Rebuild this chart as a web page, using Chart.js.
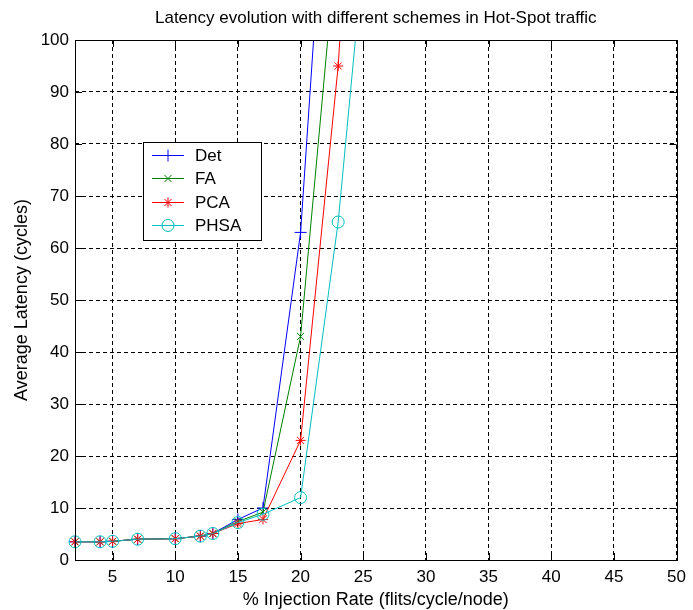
<!DOCTYPE html>
<html>
<head>
<meta charset="utf-8">
<title>Latency evolution</title>
<style>
  html, body { margin: 0; padding: 0; background: #ffffff; }
  #wrap { width: 693px; height: 610px; }
  canvas { display: block; }
</style>
<script src="https://cdn.jsdelivr.net/npm/chart.js@4/dist/chart.umd.min.js"></script>
</head>
<body>
<div id="wrap"><canvas id="chart" width="693" height="610"></canvas></div>
<script>
// Injection rate (% flits/cycle/node) at which each scheme was measured
const injectionRates = [2, 4, 5, 7, 10, 12, 13, 15, 17, 20, 23, 25];

// Average latency (cycles) per scheme; null = not measured
const detLatency  = [3.5, 3.5, 3.6, 4.0, 4.1, 4.6, 5.1, 7.8, 10.0, 63, 170, null];
const faLatency   = [3.5, 3.5, 3.6, 4.0, 4.1, 4.6, 5.1, 7.4, 9.2, 43, 122, null];
const pcaLatency  = [3.5, 3.5, 3.6, 4.0, 4.1, 4.6, 5.1, 7.0, 7.8, 23, 95, 171];
const phsaLatency = [3.5, 3.5, 3.6, 4.0, 4.1, 4.6, 5.1, 7.2, 8.8, 12, 65, 116];

const schemeNames = ['Det', 'FA', 'PCA', 'PHSA'];

// Axis tick values
const xTickValues = [5, 10, 15, 20, 25, 30, 35, 40, 45, 50];
const yTickValues = [0, 10, 20, 30, 40, 50, 60, 70, 80, 90, 100];

const FONT = '"Liberation Sans", Arial, Helvetica, sans-serif';

function toPoints(values) {
  const pts = [];
  values.forEach((v, i) => { if (v !== null) pts.push({ x: injectionRates[i], y: v }); });
  return pts;
}

function series(label, values, color, style, radius, order) {
  return {
    label: label,
    data: toPoints(values),
    borderColor: color,
    backgroundColor: color,
    borderWidth: 1,
    pointStyle: style,
    pointRadius: radius,
    pointHoverRadius: radius,
    pointBorderColor: color,
    pointBackgroundColor: 'rgba(0,0,0,0)',
    pointBorderWidth: 1,
    tension: 0,
    order: order,
    clip: { left: 10, top: 0, right: 0, bottom: 10 }
  };
}

const datasets = [
  series(schemeNames[0], detLatency,  '#0000ff', 'cross',    6, 3),
  series(schemeNames[1], faLatency,   '#008000', 'crossRot', 5, 2),
  series(schemeNames[2], pcaLatency,  '#ff0000', 'star',     5, 1),
  series(schemeNames[3], phsaLatency, '#00bfbf', 'circle',   6, 0)
];

// Titles, axes frame with inward ticks, and the legend box
const decorations = {
  id: 'decorations',
  afterDraw(chart) {
    const ctx = chart.ctx;
    const a = chart.chartArea;
    const xs = chart.scales.x, ys = chart.scales.y;
    ctx.save();

    // frame
    ctx.strokeStyle = '#000';
    ctx.lineWidth = 1;
    ctx.setLineDash([]);
    ctx.strokeRect(Math.round(a.left) + 0.5, Math.round(a.top) + 0.5,
                   Math.round(a.right - a.left), Math.round(a.bottom - a.top));

    // inward tick marks on all four sides
    const tl = 7;
    ctx.beginPath();
    xTickValues.forEach(v => {
      const px = Math.round(xs.getPixelForValue(v)) + 0.5;
      ctx.moveTo(px, a.bottom); ctx.lineTo(px, a.bottom - tl);
      ctx.moveTo(px, a.top); ctx.lineTo(px, a.top + tl);
    });
    yTickValues.forEach(v => {
      const py = Math.round(ys.getPixelForValue(v)) + 0.5;
      ctx.moveTo(a.left, py); ctx.lineTo(a.left + tl, py);
      ctx.moveTo(a.right, py); ctx.lineTo(a.right - tl, py);
    });
    ctx.stroke();

    // titles
    ctx.fillStyle = '#000';
    ctx.font = '17px ' + FONT;
    ctx.textAlign = 'center';
    ctx.textBaseline = 'middle';
    ctx.fillText('Latency evolution with different schemes in Hot-Spot traffic', (a.left + a.right) / 2, 18);
    ctx.font = '18px ' + FONT;
    ctx.fillText('% Injection Rate (flits/cycle/node)', (a.left + a.right) / 2, 600);
    ctx.save();
    ctx.translate(22, (a.top + a.bottom) / 2);
    ctx.rotate(-Math.PI / 2);
    ctx.fillText('Average Latency (cycles)', 0, 0);
    ctx.restore();

    // legend
    const lx = 143, ly = 142, lw = 118, lh = 98, rowH = 23.3, firstRow = 155;
    ctx.fillStyle = '#fff';
    ctx.fillRect(lx, ly, lw, lh);
    ctx.strokeStyle = '#000';
    ctx.strokeRect(lx + 0.5, ly + 0.5, lw, lh);
    ctx.font = '17px ' + FONT;
    ctx.textAlign = 'left';
    chart.data.datasets.forEach((ds, i) => {
      const y = Math.round(firstRow + i * rowH) + 0.5;
      ctx.strokeStyle = ds.borderColor;
      ctx.lineWidth = 1;
      ctx.beginPath();
      ctx.moveTo(152, y); ctx.lineTo(184, y);
      ctx.stroke();
      ctx.fillStyle = 'rgba(0,0,0,0)';
      Chart.helpers.drawPoint(ctx, {
        pointStyle: ds.pointStyle, radius: ds.pointRadius, rotation: 0, borderWidth: 1
      }, 168, y);
      ctx.fillStyle = '#000';
      ctx.fillText(ds.label, 195, y + 1);
    });
    ctx.restore();
  }
};

new Chart(document.getElementById('chart'), {
  type: 'line',
  data: { datasets: datasets },
  options: {
    responsive: false,
    devicePixelRatio: 1,
    animation: false,
    layout: { padding: { top: 40, right: 8, left: 0, bottom: 0 } },
    plugins: { legend: { display: false }, tooltip: { enabled: false }, title: { display: false } },
    scales: {
      x: {
        type: 'linear',
        min: 2, max: 50,
        afterFit(s) { s.height = 50; },
        afterBuildTicks(s) { s.ticks = xTickValues.map(v => ({ value: v })); },
        grid: { color: '#000', lineWidth: 1, drawTicks: false },
        border: { display: false, dash: [4, 3] },
        ticks: { color: '#000', font: { family: FONT, size: 17 }, padding: 7, maxRotation: 0, autoSkip: false }
      },
      y: {
        type: 'linear',
        min: 0, max: 100,
        afterFit(s) { s.width = 75; },
        afterBuildTicks(s) { s.ticks = yTickValues.map(v => ({ value: v })); },
        grid: { color: '#000', lineWidth: 1, drawTicks: false },
        border: { display: false, dash: [4, 3] },
        ticks: { color: '#000', font: { family: FONT, size: 17 }, padding: 6, autoSkip: false }
      }
    }
  },
  plugins: [decorations]
});
</script>
</body>
</html>
